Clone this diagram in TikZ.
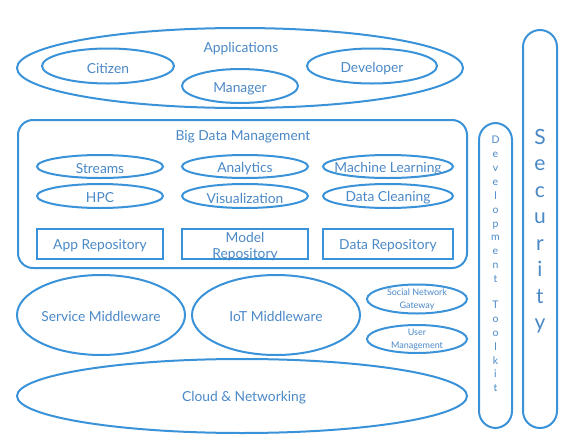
\documentclass[tikz,border=0pt]{standalone}
\usepackage{fontspec}
\setmainfont{Lato}
\usetikzlibrary{shapes.geometric}
\definecolor{ln}{HTML}{3A92D8}
\definecolor{tx}{HTML}{4A88C6}
\begin{document}
\begin{tikzpicture}[x=1pt,y=-1pt,
  every node/.style={text=tx, inner sep=0pt},
  ell/.style={draw=ln, line width=2pt, ellipse},
  lbl/.style={font=\fontsize{13.8}{15}\selectfont},
  small/.style={font=\fontsize{9}{12.5}\selectfont, align=center},
  repo/.style={draw=ln, line width=2pt, rectangle, minimum width=126pt, minimum height=30pt},
  bar/.style={draw=ln, line width=2pt, rectangle, rounded corners=17pt}]
\useasboundingbox (0,0) rectangle (573,442);
% Applications
\node[ell, minimum width=446pt, minimum height=80pt] (apps) at (240,68) {};
\node[lbl] (appst) at (241,48.5) {Applications};
\node[ell, minimum width=132pt, minimum height=35pt] (cit) at (108,66) {};
\node[lbl] (citt) at (108,68.5) {Citizen};
\node[ell, minimum width=116pt, minimum height=34pt] (man) at (240,86) {};
\node[lbl] (mant) at (240,88.5) {Manager};
\node[ell, minimum width=130pt, minimum height=35pt] (dev) at (372,66) {};
\node[lbl] (devt) at (372,68.5) {Developer};
% Big data
\node[draw=ln, line width=2pt, rectangle, rounded corners=15pt, minimum width=449pt, minimum height=148pt] (bd) at (242.5,194) {};
\node[lbl] (bdt) at (243,136.5) {Big Data Management};
\node[ell, minimum width=126pt, minimum height=23pt] (str) at (100,166.5) {};
\node[lbl] (strt) at (100,168.5) {Streams};
\node[ell, minimum width=126pt, minimum height=24pt] (hpc) at (100,196) {};
\node[lbl] (hpct) at (100,198) {HPC};
\node[ell, minimum width=126pt, minimum height=23pt] (ana) at (245,166.5) {};
\node[lbl] (anat) at (245,168.5) {Analytics};
\node[ell, minimum width=126pt, minimum height=24pt] (vis) at (245,196) {};
\node[lbl] (vist) at (245,198) {Visualization};
\node[ell, minimum width=130pt, minimum height=23pt] (ml) at (388,166.5) {};
\node[lbl] (mlt) at (388,168.5) {Machine Learning};
\node[ell, minimum width=130pt, minimum height=24pt] (dc) at (388,196) {};
\node[lbl] (dct) at (388,198) {Data Cleaning};
\node[repo] (apr) at (100,244) {};
\node[lbl] (aprt) at (100,245.5) {App Repository};
\node[repo] (mr) at (245,244) {};
\node[lbl, align=center, font=\fontsize{13.8}{16.5}\selectfont] (mrt) at (245,246.5) {Model\\Repository};
\node[repo, minimum width=130pt] (dr) at (388,244) {};
\node[lbl] (drt) at (388,245.5) {Data Repository};
% Middleware
\node[ell, minimum width=168pt, minimum height=80pt] (sm) at (101,315) {};
\node[lbl] (smt) at (101,316) {Service Middleware};
\node[ell, minimum width=168pt, minimum height=80pt] (iot) at (276,315) {};
\node[lbl] (iott) at (276,316) {IoT Middleware};
\node[ell, minimum width=100pt, minimum height=29pt] (sng) at (417,299) {};
\node[small] (sngt) at (417,299.5) {Social Network\\Gateway};
\node[ell, minimum width=100pt, minimum height=28pt] (um) at (417,339) {};
\node[small] (umt) at (417,339.5) {User\\Management};
% Cloud
\node[ell, minimum width=450pt, minimum height=74pt] (cloud) at (242,396) {};
\node[lbl] (cloudt) at (244,398) {Cloud \& Networking};
% Dev toolkit
\node[bar, minimum width=33pt, minimum height=305pt] (dt) at (495.5,275.5) {};
\node[align=center, font=\fontsize{10.5}{13.9}\selectfont] (dtt) at (495.5,264) {D\\e\\v\\e\\l\\o\\p\\m\\e\\n\\t\\[-2pt] \\T\\o\\o\\l\\k\\i\\t};
% Security
\node[bar, minimum width=34pt, minimum height=398pt] (sec) at (540,229) {};
\node[align=center, font=\fontsize{21}{26.5}\selectfont] (sect) at (540,231) {S\\e\\c\\u\\r\\i\\t\\y};
\end{tikzpicture}
\end{document}
